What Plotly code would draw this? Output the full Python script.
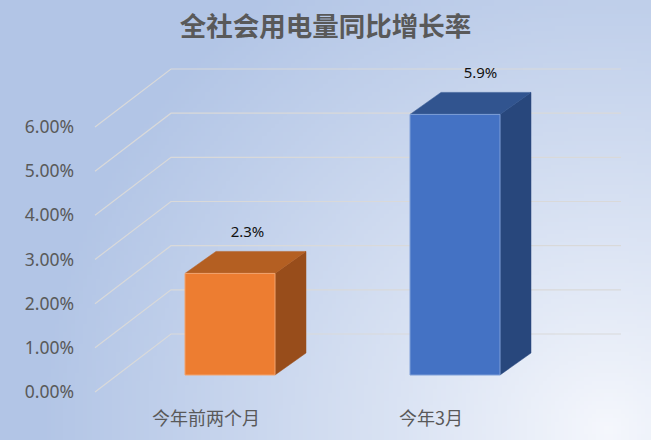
import zlib, struct, base64, math
import plotly.graph_objects as go

# ---------------- data ----------------
categories = ["今年前两个月", "今年3月"]
values = [2.3, 5.9]
value_labels = ["2.3%", "5.9%"]
tick_values = [0, 1, 2, 3, 4, 5, 6]
tick_labels = ["0.00%", "1.00%", "2.00%", "3.00%", "4.00%", "5.00%", "6.00%"]
front_colors = ["#ED7D31", "#4472C4"]
edge_colors = ["#F2A46E", "#7E9FD8"]
top_colors = ["#B45F22", "#31548F"]
side_colors = ["#984D1B", "#28477C"]

# ---------------- geometry (style constants) ----------------
W, H = 651, 440
ML, MR, MT, MB = 78, 0, 0, 40
PX = 44.17            # pixels per 1 %
Y0_PX = 392           # pixel row of 0 % at wall front
PW, PH = W - ML - MR, H - MT - MB
y_min = -(H - MB - Y0_PX) / PX
y_max = (Y0_PX - MT) / PX

WALL_X0, WALL_X1, GRID_END = 95, 171, 621
WALL_DZ = 58 / PX
BAR_C0, BAR_STEP, BAR_W = 230, 225, 90
BAR_BASE = 17 / PX
BAR_DX, BAR_DZ = 31, 22 / PX
LABEL_SHIFT = -24

def bg_png(w=160, h=108):
    outer = (178, 197, 230)
    inner = (246, 248, 253)
    cx, cy = 0.93 * w, 0.97 * h
    R = 0.88 * w
    rows = []
    for j in range(h):
        row = bytearray([0])
        for i in range(w):
            d = math.hypot((i - cx), (j - cy) * 1.05)
            t = min(1.0, d / R) ** 0.9
            row += bytes(int(inner[k] + (outer[k] - inner[k]) * t) for k in range(3))
        rows.append(bytes(row))
    raw = b"".join(rows)
    def chunk(tag, data):
        c = struct.pack(">I", len(data)) + tag + data
        return c + struct.pack(">I", zlib.crc32(tag + data) & 0xffffffff)
    png = b"\x89PNG\r\n\x1a\n" + chunk(b"IHDR", struct.pack(">IIBBBBB", w, h, 8, 2, 0, 0, 0)) \
        + chunk(b"IDAT", zlib.compress(raw, 9)) + chunk(b"IEND", b"")
    return "data:image/png;base64," + base64.b64encode(png).decode()

fig = go.Figure()

# gridlines: diagonal on side wall then horizontal along back wall
gx, gy = [], []
for v in tick_values:
    gx += [WALL_X0, WALL_X1, GRID_END, None]
    gy += [v, v + WALL_DZ, v + WALL_DZ, None]
fig.add_trace(go.Scatter(x=gx, y=gy, mode="lines", line=dict(color="#D9D9D9", width=1.2),
                         hoverinfo="skip", showlegend=False))

# 3D bars
for i, (cat, val) in enumerate(zip(categories, values)):
    xc = BAR_C0 + i * BAR_STEP
    xl, xr = xc - BAR_W / 2, xc + BAR_W / 2
    b, t = BAR_BASE, BAR_BASE + val
    fig.add_trace(go.Scatter(x=[xr, xr + BAR_DX, xr + BAR_DX, xr, xr],
                             y=[b, b + BAR_DZ, t + BAR_DZ, t, b],
                             fill="toself", fillcolor=side_colors[i], mode="lines",
                             line=dict(color=side_colors[i], width=0.5),
                             hoverinfo="skip", showlegend=False))
    fig.add_trace(go.Scatter(x=[xl, xl + BAR_DX, xr + BAR_DX, xr, xl],
                             y=[t, t + BAR_DZ, t + BAR_DZ, t, t],
                             fill="toself", fillcolor=top_colors[i], mode="lines",
                             line=dict(color=top_colors[i], width=0.5),
                             hoverinfo="skip", showlegend=False))
    fig.add_trace(go.Scatter(x=[xl, xr, xr, xl, xl], y=[b, b, t, t, b],
                             fill="toself", fillcolor=front_colors[i], mode="lines",
                             line=dict(color=edge_colors[i], width=1),
                             hoverinfo="skip", showlegend=False, name=cat))
    fig.add_trace(go.Scatter(x=[xc + BAR_DX / 2 + 2 + i * 8], y=[t + BAR_DZ + 0.25],
                             mode="text", text=[value_labels[i]], textposition="top center",
                             textfont=dict(family="Noto Sans, Noto Sans CJK SC", size=15, color="#111111"),
                             hoverinfo="skip", showlegend=False))

fig.update_layout(
    width=W, height=H,
    margin=dict(l=ML, r=MR, t=MT, b=MB),
    paper_bgcolor="#C9D6EE", plot_bgcolor="rgba(0,0,0,0)",
    showlegend=False,
    title=dict(text="<b>全社会用电量同比增长率</b>", x=0.5, xanchor="center",
               y=1 - 27 / H, yanchor="middle", yref="container",
               font=dict(family="Noto Sans CJK SC", size=26.5, color="#595959")),
    xaxis=dict(range=[ML, W - MR], showgrid=False, zeroline=False, showline=False,
               tickmode="array", tickvals=[BAR_C0 + i * BAR_STEP + LABEL_SHIFT for i in range(len(categories))],
               ticktext=categories, ticks="", ticklabelstandoff=6,
               tickfont=dict(family="Noto Sans CJK SC", size=18, color="#595959")),
    yaxis=dict(range=[y_min, y_max], showgrid=False, zeroline=False, showline=False,
               tickmode="array", tickvals=tick_values, ticktext=tick_labels,
               ticks="", ticklabelstandoff=3,
               tickfont=dict(family="Noto Sans, Noto Sans CJK SC", size=17.5, color="#595959")),
    images=[dict(source=bg_png(), xref="paper", yref="paper",
                 x=-ML / PW, y=(H - MB) / PH, sizex=W / PW, sizey=H / PH,
                 xanchor="left", yanchor="top", sizing="stretch", layer="below")],
)

fig.write_html("out.html", post_script="document.body.style.margin='0px';",
               config={"displayModeBar": False})
